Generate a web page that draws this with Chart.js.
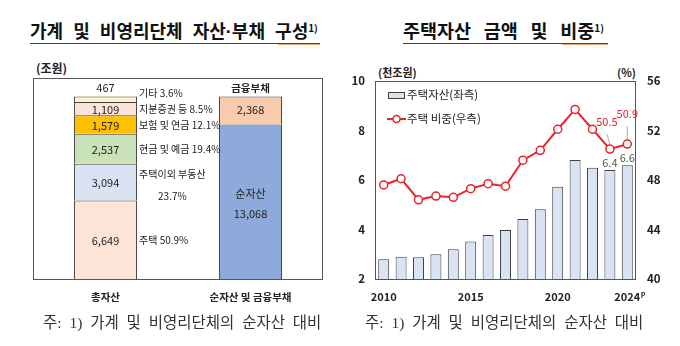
<!DOCTYPE html>
<html><head><meta charset="utf-8">
<script src="https://cdn.jsdelivr.net/npm/chart.js@4.4.1/dist/chart.umd.min.js"></script>
<style>
html,body{margin:0;padding:0;background:#fff;}
body{width:680px;height:346px;position:relative;overflow:hidden;font-family:"Noto Sans CJK KR","Noto Sans",sans-serif;color:#222;}
.abs{position:absolute;white-space:nowrap;}
canvas{position:absolute;top:0;}
#c1{left:0;} #c2{left:340px;}
.title{font-size:18px;font-weight:bold;top:17px;line-height:26px;word-spacing:6px;color:#111;}
.title sup{font-size:10px;position:relative;top:-2px;vertical-align:top;word-spacing:0;}
.dot{font-family:"Liberation Sans",sans-serif;font-weight:bold;}
.uline{position:absolute;height:1px;background:#444;top:43px;}
.sq{position:absolute;height:1px;background:#e6a36a;top:44px;}
.foot{font-size:15.5px;top:312px;line-height:22px;color:#333;word-spacing:4px;font-family:"Liberation Serif","Noto Sans CJK KR",serif;}
.unit{font-size:12px;font-weight:bold;line-height:14px;}
</style></head>
<body>
<div class="abs title" style="left:30px;">가계 및 비영리단체 자산<span class="dot">·</span>부채 구성<sup>1)</sup></div>
<div class="uline" style="left:30px;width:290px;"></div>
<div class="sq" style="left:278px;width:42px;"></div>
<div class="abs title" style="left:403px;font-size:18.5px;word-spacing:8.5px;">주택자산 금액 및 비중<sup>1)</sup></div>
<div class="uline" style="left:403px;width:205px;"></div>
<div class="sq" style="left:562px;width:46px;"></div>
<div class="abs unit" style="left:36px;top:61px;">(조원)</div>
<div class="abs unit" style="left:378px;top:65px;font-size:11px;">(천조원)</div>
<div class="abs unit" style="left:617px;top:65px;font-size:11px;">(%)</div>
<canvas id="c1" width="340" height="346"></canvas>
<canvas id="c2" width="340" height="346"></canvas>
<div class="abs foot" style="left:43px;">주: 1) 가계 및 비영리단체의 순자산 대비</div>
<div class="abs foot" style="left:365px;">주: 1) 가계 및 비영리단체의 순자산 대비</div>
<script>
// ---------- data ----------
const leftCategories = ['총자산', '순자산 및 금융부채'];
const assetLabels = ['주택', '주택이외 부동산', '현금 및 예금', '보험 및 연금', '지분증권 등', '기타'];
const assetValues = [6649, 3094, 2537, 1579, 1109, 467];
const assetShares = [50.9, 23.7, 19.4, 12.1, 8.5, 3.6];
const claimLabels = ['순자산', '금융부채'];
const claimValues = [13068, 2368];

const years = ['2010','2011','2012','2013','2014','2015','2016','2017','2018','2019','2020','2021','2022','2023','2024'];
const xTickLabels = ['2010','','','','','2015','','','','','2020','','','','2024'];
const housingAssets = [2.8, 2.9, 2.88, 3.0, 3.2, 3.52, 3.78, 3.98, 4.42, 4.82, 5.73, 6.81, 6.5, 6.4, 6.6];
const housingShare = [47.6, 48.1, 46.4, 46.7, 46.6, 47.3, 47.7, 47.5, 49.6, 50.4, 52.1, 53.7, 52.1, 50.5, 50.9];
const leftTicks = [2, 4, 6, 8, 10];
const rightTicks = [40, 44, 48, 52, 56];

// ---------- styles ----------
const F = '"Noto Sans CJK KR","Noto Sans",sans-serif';
const assetColors = ['#fce4d6', '#dae3f3', '#c9e2b8', '#ffc000', '#fbe3d8', '#fff2c8'];
const claimColors = ['#8eaadb', '#f8cbad'];
const RED = '#e8232b';

const boxPlugin = {
  id: 'box',
  afterDraw(chart) {
    const {ctx, chartArea: a} = chart;
    ctx.save();
    ctx.strokeStyle = '#555';
    ctx.lineWidth = 1;
    ctx.strokeRect(Math.round(a.left) + 0.5, Math.round(a.top) + 0.5, Math.round(a.right - a.left) - 1, Math.round(a.bottom - a.top));
    ctx.restore();
  }
};

const fmt = v => v.toLocaleString('en-US');

// ---------- left chart ----------
const leftLabelsPlugin = {
  id: 'leftLabels',
  afterDatasetsDraw(chart) {
    const ctx = chart.ctx;
    ctx.save();
    ctx.fillStyle = '#222';
    ctx.textBaseline = 'middle';
    const shareDy = [1, 0, 0, 1, 1, -6];
    assetValues.forEach((v, i) => {
      const el = chart.getDatasetMeta(i).data[0];
      const cy = (el.y + el.base) / 2;
      ctx.font = '11px ' + F;
      ctx.textAlign = 'center';
      if (i === assetValues.length - 1) {
        ctx.fillText(fmt(v), el.x, el.y - 9);
      } else {
        ctx.fillText(fmt(v), el.x, cy + 1);
      }
      ctx.font = '10px ' + F;
      const lx = el.x + el.width / 2 + 2;
      if (i === 1) {
        ctx.textAlign = 'left';
        ctx.fillText(assetLabels[i], lx, cy - 8);
        const w = ctx.measureText(assetLabels[i]).width;
        ctx.textAlign = 'center';
        ctx.fillText(assetShares[i] + '%', lx + w / 2, cy + 14);
      } else {
        ctx.textAlign = 'left';
        ctx.fillText(assetLabels[i] + ' ' + assetShares[i] + '%', lx, cy + shareDy[i]);
      }
    });
    // claims bar
    const e0 = chart.getDatasetMeta(0).data[1];
    const c0 = (e0.y + e0.base) / 2;
    ctx.textAlign = 'center';
    ctx.font = '11px ' + F;
    ctx.fillText(claimLabels[0], e0.x, c0 - 8);
    ctx.fillText(fmt(claimValues[0]), e0.x, c0 + 12);
    const e1 = chart.getDatasetMeta(1).data[1];
    ctx.fillText(fmt(claimValues[1]), e1.x, (e1.y + e1.base) / 2 - 1);
    ctx.font = 'bold 10.5px ' + F;
    ctx.fillText(claimLabels[1], e1.x, e1.y - 8);
    ctx.restore();
  }
};

new Chart(document.getElementById('c1'), {
  type: 'bar',
  data: {
    labels: leftCategories,
    datasets: assetValues.map((v, i) => ({
      label: assetLabels[i],
      data: [v, i < claimValues.length ? claimValues[i] : null],
      backgroundColor: [assetColors[i], claimColors[i] || '#fff'],
      borderColor: '#404040',
      borderWidth: 1,
      categoryPercentage: 0.5,
      barPercentage: 0.87
    }))
  },
  options: {
    responsive: false, animation: false, events: [],
    layout: {padding: {left: 33, right: 17, top: 78, bottom: 0}},
    plugins: {legend: {display: false}, tooltip: {enabled: false}},
    scales: {
      x: {
        stacked: true,
        grid: {display: false, drawTicks: false},
        border: {display: false},
        ticks: {padding: 12, color: '#222', font: {family: F, size: 10.5, weight: 'bold'}},
        afterFit: s => { s.height = 67; }
      },
      y: {stacked: true, display: false, min: 0, max: 17000}
    }
  },
  plugins: [boxPlugin, leftLabelsPlugin]
});

// ---------- right chart ----------
const rightLabelsPlugin = {
  id: 'rightLabels',
  afterDatasetsDraw(chart) {
    const ctx = chart.ctx;
    const a = chart.chartArea;
    ctx.save();
    // legend
    const lx = a.left + 13, ly1 = a.top + 14, ly2 = a.top + 38;
    ctx.fillStyle = '#dae3f3';
    ctx.strokeStyle = '#404040';
    ctx.lineWidth = 1;
    ctx.fillRect(lx, ly1 - 3, 16, 6);
    ctx.strokeRect(lx + 0.5, ly1 - 3 + 0.5, 16, 6);
    ctx.strokeStyle = RED;
    ctx.lineWidth = 2;
    ctx.beginPath(); ctx.moveTo(lx - 1, ly2); ctx.lineTo(lx + 18, ly2); ctx.stroke();
    ctx.fillStyle = '#fff';
    ctx.lineWidth = 1.5;
    ctx.beginPath(); ctx.arc(lx + 8.5, ly2, 3.5, 0, Math.PI * 2); ctx.fill(); ctx.stroke();
    ctx.fillStyle = '#222';
    ctx.font = '11.5px ' + F;
    ctx.textBaseline = 'middle';
    ctx.textAlign = 'left';
    ctx.fillText(chart.data.datasets[1].label, lx + 19, ly1);
    ctx.fillText(chart.data.datasets[0].label, lx + 19, ly2);

    // bar value labels (last two)
    const barMeta = chart.getDatasetMeta(1).data;
    ctx.fillStyle = '#555';
    ctx.font = '11px ' + F;
    ctx.textAlign = 'center';
    ctx.textBaseline = 'bottom';
    [13, 14].forEach(i => {
      ctx.fillText(String(housingAssets[i]), barMeta[i].x, barMeta[i].y - 2);
    });
    // line value labels with leaders
    const lineMeta = chart.getDatasetMeta(0).data;
    const offs = {13: [-3, -27], 14: [0, -30]};
    [13, 14].forEach(i => {
      const p = lineMeta[i];
      const [dx, dy] = offs[i];
      ctx.strokeStyle = '#b0b0b0';
      ctx.lineWidth = 1;
      ctx.beginPath();
      ctx.moveTo(p.x + dx, p.y + dy + 12);
      ctx.lineTo(p.x + (i === 13 ? 0 : dx), p.y - 5);
      ctx.stroke();
      ctx.fillStyle = RED;
      ctx.font = '11px ' + F;
      ctx.textBaseline = 'middle';
      ctx.fillText(String(housingShare[i]), p.x + dx, p.y + dy);
    });
    // superscript P on 2024
    const xs = chart.scales.x;
    ctx.font = 'bold 11px ' + F;
    const w = ctx.measureText(xTickLabels[14]).width;
    ctx.fillStyle = '#222';
    ctx.font = 'bold 7px ' + F;
    ctx.textAlign = 'left';
    ctx.textBaseline = 'middle';
    ctx.fillText('P', xs.getPixelForValue(14) + w / 2 + 0.5, a.bottom + 16);
    ctx.restore();
  }
};

new Chart(document.getElementById('c2'), {
  type: 'bar',
  data: {
    labels: years,
    datasets: [
      {
        type: 'line', label: '주택 비중(우측)', data: housingShare, yAxisID: 'y1',
        borderColor: RED, borderWidth: 2, pointRadius: 4, pointBorderWidth: 1.5,
        pointBackgroundColor: '#fff', pointBorderColor: RED, tension: 0, order: 0
      },
      {
        type: 'bar', label: '주택자산(좌측)', data: housingAssets, yAxisID: 'y',
        backgroundColor: '#dae3f3', borderColor: '#404040', borderWidth: 1,
        categoryPercentage: 0.7, barPercentage: 0.9, order: 1
      }
    ]
  },
  options: {
    responsive: false, animation: false, events: [],
    layout: {padding: {left: 0, right: 0, top: 81, bottom: 0}},
    plugins: {legend: {display: false}, tooltip: {enabled: false}},
    scales: {
      x: {
        grid: {display: false, drawTicks: false},
        border: {display: false},
        ticks: {autoSkip: false, maxRotation: 0, padding: 11, color: '#222',
          font: {family: F, size: 11, weight: 'bold'},
          callback: (v, i) => xTickLabels[i]},
        afterFit: s => { s.height = 67; }
      },
      y: {
        position: 'left', min: leftTicks[0], max: leftTicks[leftTicks.length - 1],
        afterBuildTicks: s => { s.ticks = leftTicks.map(v => ({value: v})); },
        grid: {display: false, drawTicks: false}, border: {display: false},
        ticks: {padding: 10, color: '#222', font: {family: F, size: 11.5, weight: 'bold'}},
        afterFit: s => { s.width = 35; }
      },
      y1: {
        position: 'right', min: rightTicks[0], max: rightTicks[rightTicks.length - 1],
        afterBuildTicks: s => { s.ticks = rightTicks.map(v => ({value: v})); },
        grid: {display: false, drawTicks: false}, border: {display: false},
        ticks: {padding: 11, color: '#222', font: {family: F, size: 11.5, weight: 'bold'}},
        afterFit: s => { s.width = 44; }
      }
    }
  },
  plugins: [boxPlugin, rightLabelsPlugin]
});
</script>
</body></html>
